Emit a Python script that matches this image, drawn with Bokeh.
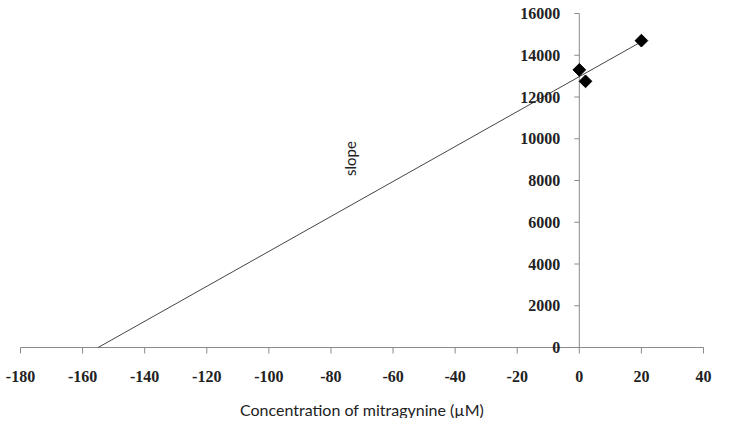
import math
from bokeh.plotting import figure
from bokeh.models import Range1d, Label, LabelSet, ColumnDataSource
from bokeh.embed import file_html
from bokeh.resources import INLINE

# data
conc = [0, 2, 20]
signal = [13300, 12750, 14700]
trend_x = [-155, 20]
trend_y = [0, 14650]
x_ticks = [-180, -160, -140, -120, -100, -80, -60, -40, -20, 0, 20, 40]
y_ticks = [0, 2000, 4000, 6000, 8000, 10000, 12000, 14000, 16000]
x_title = "Concentration of mitragynine (\u00b5M)"
note = "slope"
note_pos = (-74, 9050)

# layout (pixels)
W, H = 713, 418
px_left, px_right = 20, 703      # screen x of first / last x tick
py_zero, py_top = 347, 13        # screen y of y = 0 and of the top y tick

sx = (px_right - px_left) / (x_ticks[-1] - x_ticks[0])
sy = (py_zero - py_top) / (y_ticks[-1] - y_ticks[0])
x_range = Range1d(x_ticks[0] - px_left / sx, x_ticks[-1] + (W - px_right) / sx)
y_range = Range1d(y_ticks[0] - (H - py_zero) / sy, y_ticks[-1] + py_top / sy)

p = figure(width=W, height=H, output_backend="svg", toolbar_location=None,
           x_range=x_range, y_range=y_range,
           min_border=0, x_axis_location=None, y_axis_location=None)
p.outline_line_color = None
p.grid.visible = False
p.background_fill_color = "white"
p.border_fill_color = "white"

axis_color = "#8a8a8a"
label_color = "#222222"
tick_font = "Liberation Serif"

# x axis at y = 0
nx = len(x_ticks)
p.segment(x0=[x_ticks[0]], y0=[0], x1=[x_ticks[-1]], y1=[0], line_color=axis_color, line_width=1)
p.segment(x0=x_ticks, y0=[0] * nx, x1=x_ticks, y1=[-6 / sy] * nx, line_color=axis_color, line_width=1)
xsrc = ColumnDataSource(dict(x=x_ticks, y=[0] * nx, t=[str(v) for v in x_ticks]))
p.add_layout(LabelSet(x="x", y="y", text="t", source=xsrc, y_offset=-29,
                      text_align="center", text_baseline="middle",
                      text_font=tick_font, text_font_style="bold",
                      text_font_size="16px", text_color=label_color))
p.add_layout(Label(x=(x_ticks[0] + x_ticks[-1]) / 2, y=0, y_offset=-62, text=x_title,
                   text_align="center", text_baseline="middle",
                   text_font="Lato", text_font_size="16px", text_color=label_color))

# y axis at x = 0
ny = len(y_ticks)
p.segment(x0=[0], y0=[y_ticks[0]], x1=[0], y1=[y_ticks[-1]], line_color=axis_color, line_width=1)
p.segment(x0=[0] * ny, y0=y_ticks, x1=[-5 / sx] * ny, y1=y_ticks, line_color=axis_color, line_width=1)
ysrc = ColumnDataSource(dict(x=[0] * ny, y=y_ticks, t=[str(v) for v in y_ticks]))
p.add_layout(LabelSet(x="x", y="y", text="t", source=ysrc, x_offset=-19,
                      text_align="right", text_baseline="middle",
                      text_font=tick_font, text_font_style="bold",
                      text_font_size="16px", text_color=label_color))

# data
p.line(trend_x, trend_y, line_color="#444444", line_width=1)
p.scatter(conc, signal, marker="square", angle=math.pi / 4, size=9,
          fill_color="black", line_color="black")

p.add_layout(Label(x=note_pos[0], y=note_pos[1], text=note, angle=math.pi / 2,
                   text_align="center", text_baseline="middle",
                   text_font="Lato", text_font_size="15px", text_color=label_color))

open("out.html", "w").write(file_html(p, INLINE))
